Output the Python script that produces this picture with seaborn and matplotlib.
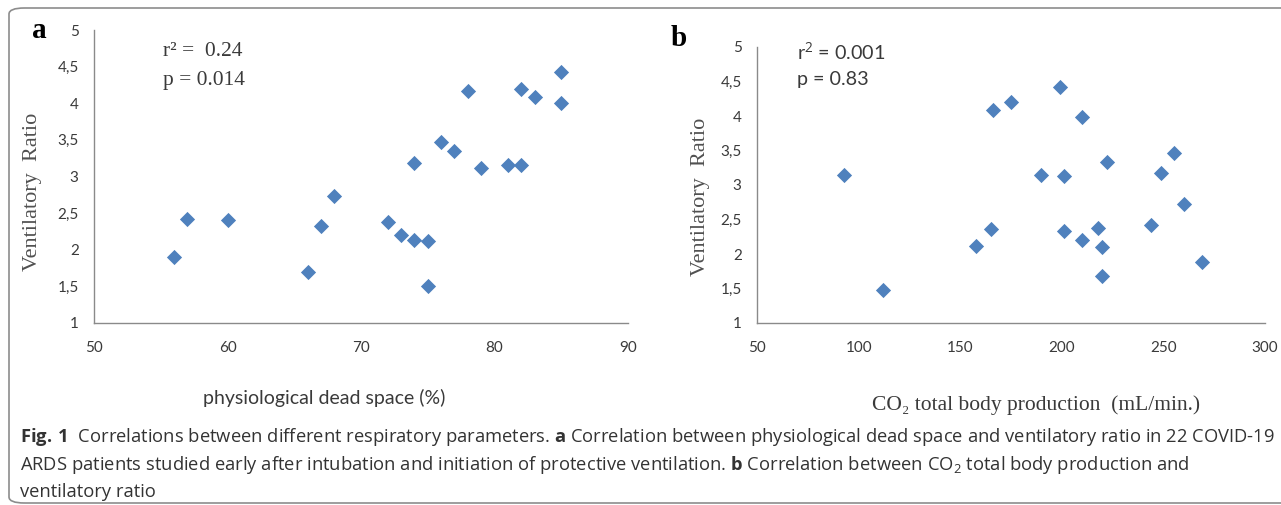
import numpy as np
import pandas as pd
import matplotlib
matplotlib.use("Agg")
import matplotlib.pyplot as plt
import seaborn as sns
from matplotlib.patches import FancyBboxPatch
from matplotlib.ticker import FuncFormatter

# panel a: physiological dead space (%) vs ventilatory ratio
dead_space = [56, 57, 60, 66, 67, 68, 72, 73, 74, 74, 75, 75, 76, 77, 78, 79, 81, 82, 82, 83, 85, 85]
vr_a = [1.90, 2.42, 2.40, 1.70, 2.33, 2.73, 2.38, 2.20, 2.13, 3.18, 2.12, 1.50, 3.47, 3.35, 4.17, 3.12,
        3.16, 3.16, 4.20, 4.08, 4.43, 4.00]

# panel b: CO2 total body production (mL/min) vs ventilatory ratio
vco2 = [93, 112, 158, 165, 166, 175, 190, 199, 201, 201, 210, 210, 218, 220, 220, 222, 244, 249, 255, 260, 269]
vr_b = [3.15, 1.48, 2.12, 2.36, 4.08, 4.20, 3.15, 4.42, 3.13, 2.34, 3.98, 2.20, 2.38, 2.10, 1.68, 3.33,
        2.42, 3.17, 3.47, 2.72, 1.88]

y_ticks = [1, 1.5, 2, 2.5, 3, 3.5, 4, 4.5, 5]
x_ticks_a = [50, 60, 70, 80, 90]
x_ticks_b = [50, 100, 150, 200, 250, 300]

BLUE = "#4F81BD"
SPINE = "#8a8a8a"
TXT = "#3a3a3a"
SANS = ["Lato", "DejaVu Sans"]
SERIF = ["Liberation Serif", "DejaVu Serif"]

sns.set_style("white")
plt.rcParams["mathtext.fontset"] = "custom"
plt.rcParams["mathtext.rm"] = "Open Sans"
plt.rcParams["mathtext.bf"] = "Open Sans:bold"

fig = plt.figure(figsize=(12.81, 5.05), dpi=100)
W, H = 1281, 505


def box(l, r, t, b):
    return [l / W, 1 - b / H, (r - l) / W, (b - t) / H]


ax_a = fig.add_axes(box(94, 628, 30, 323))
ax_b = fig.add_axes(box(757, 1265, 47, 323))

df_a = pd.DataFrame({"x": dead_space, "y": vr_a})
df_b = pd.DataFrame({"x": vco2, "y": vr_b})

fmt = FuncFormatter(lambda v, p: ("%g" % v).replace(".", ","))

for ax, df, xt in [(ax_a, df_a, x_ticks_a), (ax_b, df_b, x_ticks_b)]:
    sns.scatterplot(data=df, x="x", y="y", ax=ax, marker="D", s=60, color=BLUE,
                    linewidth=0, legend=False)
    ax.set_xlim(xt[0], xt[-1])
    ax.set_ylim(1, 5)
    ax.set_xticks(xt)
    ax.set_yticks(y_ticks)
    ax.yaxis.set_major_formatter(fmt)
    ax.set_xlabel("")
    ax.set_ylabel("")
    sns.despine(ax=ax)
    for s in ["left", "bottom"]:
        ax.spines[s].set_color(SPINE)
        ax.spines[s].set_linewidth(1.0)
    ax.tick_params(axis="both", colors=SPINE, length=4, width=1, direction="out",
                   labelcolor=TXT, labelsize=11)
    ax.tick_params(axis="x", pad=9)
    ax.tick_params(axis="y", pad=7)
    for lab in ax.get_xticklabels() + ax.get_yticklabels():
        lab.set_family(SANS)
    for sp in ax.spines.values():
        sp.set_clip_on(False)

# y labels
fig.text(33 / W, 1 - 192 / H, "Ventilatory  Ratio", rotation=90, ha="center", va="center",
         family=SERIF, fontsize=16, color="#505050")
fig.text(700 / W, 1 - 197 / H, "Ventilatory  Ratio", rotation=90, ha="center", va="center",
         family=SERIF, fontsize=16, color="#505050")

# x labels
fig.text(324 / W, 1 - 398 / H, "physiological dead space (%)", ha="center", va="center",
         family=SANS, fontsize=14, color=TXT)
fig.text(1036 / W, 1 - 405 / H, "CO\u2082 total body production  (mL/min.)", ha="center",
         va="center", family=SERIF, fontsize=15.5, color=TXT)

# panel letters
fig.text(39 / W, 1 - 31 / H, "a", ha="center", va="center", family=SERIF, fontsize=21,
         fontweight="bold", color="black")
fig.text(679 / W, 1 - 39 / H, "b", ha="center", va="center", family=SERIF, fontsize=21,
         fontweight="bold", color="black")

# statistics
fig.text(163 / W, 1 - 52 / H, "r\u00b2 =  0.24", ha="left", va="center", family=SERIF,
         fontsize=15.5, color=TXT)
fig.text(163 / W, 1 - 80 / H, "p = 0.014", ha="left", va="center", family=SERIF,
         fontsize=15.5, color=TXT)
fig.text(797 / W, 1 - 52 / H, r"r$^{2}$ = 0.001", ha="left", va="center", family=SANS,
         fontsize=14.2, color=TXT)
fig.text(797 / W, 1 - 79 / H, "p = 0.83", ha="left", va="center", family=SANS,
         fontsize=14.2, color=TXT)

# caption
cap = [
    r"$\mathbf{Fig.\,1}$  Correlations between different respiratory parameters. $\mathbf{a}$ Correlation "
    r"between physiological dead space and ventilatory ratio in 22 COVID-19",
    r"ARDS patients studied early after intubation and initiation of protective ventilation. "
    r"$\mathbf{b}$ Correlation between CO$_2$ total body production and",
    "ventilatory ratio",
]
for i, line in enumerate(cap):
    fig.text(20 / W, 1 - (437 + 27.5 * i) / H, line, ha="left", va="center",
             family=["Open Sans", "DejaVu Sans"], fontsize=13.2, color="#333333")

# rounded frame around the figure
frame = FancyBboxPatch((9 / W, 2 / H), 1.2, 1 - 10 / H, boxstyle="round,pad=0,rounding_size=0.012",
                       transform=fig.transFigure, fill=False, edgecolor="#8c8c8c", linewidth=1.2,
                       clip_on=False)
fig.patches.append(frame)

fig.savefig("out.png", dpi=100)
